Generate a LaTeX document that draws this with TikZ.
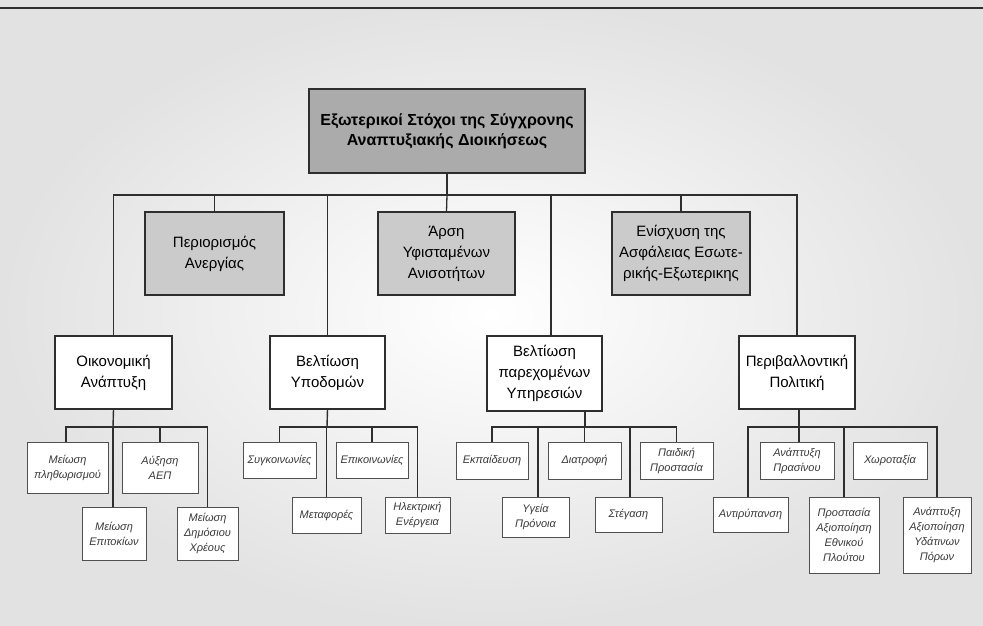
\documentclass[tikz,border=0pt]{standalone}
\usepackage{fontspec}
\setmainfont{Liberation Sans}
\definecolor{linec}{HTML}{2E2E2E}
\definecolor{leafline}{HTML}{505050}
\definecolor{topfill}{HTML}{ABABAB}
\definecolor{midfill}{HTML}{CBCBCB}
\definecolor{paper}{HTML}{E2E2E2}
\definecolor{leaftext}{HTML}{3A3A3A}
\begin{document}
\begin{tikzpicture}[x=1pt,y=-1pt,
  conn/.style={draw=linec, line width=1.3pt},
  leafconn/.style={draw=linec, line width=1.4pt},
  basebox/.style={inner sep=0pt, align=center, line width=1.1pt, draw=linec},
  headbox/.style={basebox, fill=topfill, font=\fontsize{16}{20}\selectfont\bfseries},
  goalbox/.style={basebox, fill=midfill, font=\fontsize{15}{21}\selectfont},
  areabox/.style={basebox, fill=white, font=\fontsize{15}{21}\selectfont},
  leafbox/.style={basebox, fill=white, draw=leafline, line width=0.9pt,
    text=leaftext, font=\fontsize{11}{15}\selectfont\itshape},
]
% paper background with a lighter centre
\useasboundingbox (0,0) rectangle (983,626);
\fill[paper] (0,0) rectangle (983,626);
\shade[inner color=white, outer color=paper] (0,0) rectangle (983,626);
\draw[linec, line width=2.6pt] (0,8) -- (983,8);

% root
\node[headbox, minimum width=276pt, minimum height=84pt] (root) at (447,131)
  {Εξωτερικοί Στόχοι της Σύγχρονης\\Αναπτυξιακής Διοικήσεως};

% goals
\node[goalbox, minimum width=139pt, minimum height=83pt] (g1) at (214.5,253.5)
  {Περιορισμός\\Ανεργίας};
\node[goalbox, minimum width=137pt, minimum height=83pt] (g2) at (446.5,253.5)
  {Άρση\\Υφισταμένων\\Ανισοτήτων};
\node[goalbox, minimum width=138pt, minimum height=83pt] (g3) at (681,253.5)
  {Ενίσχυση της\\Ασφάλειας Εσωτε-\\ρικής-Εξωτερικης};

% policy areas
\node[areabox, minimum width=117pt, minimum height=73pt] (a1) at (113.5,372.5)
  {Οικονομική\\Ανάπτυξη};
\node[areabox, minimum width=115pt, minimum height=73pt] (a2) at (327.5,372.5)
  {Βελτίωση\\Υποδομών};
\node[areabox, minimum width=115pt, minimum height=75pt] (a3) at (544.5,373.5)
  {Βελτίωση\\παρεχομένων\\Υπηρεσιών};
\node[areabox, minimum width=116pt, minimum height=73pt] (a4) at (797,372.5)
  {Περιβαλλοντική\\Πολιτική};

% main bus
\coordinate (bus) at (447,195);
\draw[conn] (root.south) -- (bus);
\draw[conn] (bus) -| (a1.north);
\draw[conn] (bus) -| (a4.north);
\draw[conn] (bus) -| (g1.north);
\draw[conn] (bus) -- (g2.north);
\draw[conn] (bus) -| (g3.north);
\draw[conn] (bus) -| (a2.north);
\draw[conn] (bus) -| ([xshift=6.5pt]a3.north);

% economic development
\node[leafbox, minimum width=81pt, minimum height=51pt] (e1) at (67.5,467.5)
  {Μείωση\\πληθωρισμού};
\node[leafbox, minimum width=76pt, minimum height=51pt] (e2) at (160,467.5)
  {Αύξηση\\ΑΕΠ};
\node[leafbox, minimum width=64pt, minimum height=53pt] (e3) at (114,533.5)
  {Μείωση\\Επιτοκίων};
\node[leafbox, minimum width=61pt, minimum height=53pt] (e4) at (207.5,533.5)
  {Μείωση\\Δημόσιου\\Χρέους};
\coordinate (ja) at (113,427);
\draw[leafconn] (a1.south) -- (ja);
\draw[leafconn] (ja) -| ([xshift=-1.5pt]e1.north);
\draw[leafconn] (ja) -| (e2.north);
\draw[leafconn] (ja) -- ([xshift=-1pt]e3.north);
\draw[leafconn] (ja) -| (e4.north);

% infrastructure
\node[leafbox, minimum width=73pt, minimum height=36pt] (i1) at (279.5,460)
  {Συγκοινωνίες};
\node[leafbox, minimum width=72pt, minimum height=36pt] (i2) at (372,460)
  {Επικοινωνίες};
\node[leafbox, minimum width=69pt, minimum height=36pt] (i3) at (326.5,515)
  {Μεταφορές};
\node[leafbox, minimum width=65pt, minimum height=36pt] (i4) at (417.5,515)
  {Ηλεκτρική\\Ενέργεια};
\coordinate (jb) at (327,427);
\draw[leafconn] (a2.south) -- (jb);
\draw[leafconn] (jb) -| (i1.north);
\draw[leafconn] (jb) -| (i2.north);
\draw[leafconn] (jb) -| (i3.north);
\draw[leafconn] (jb) -| (i4.north);

% public services
\node[leafbox, minimum width=72pt, minimum height=37pt] (s1) at (492,460.5)
  {Εκπαίδευση};
\node[leafbox, minimum width=73pt, minimum height=37pt] (s2) at (584.5,460.5)
  {Διατροφή};
\node[leafbox, minimum width=73pt, minimum height=37pt] (s3) at (676.5,460.5)
  {Παιδική\\Προστασία};
\node[leafbox, minimum width=67pt, minimum height=40pt] (s4) at (535.5,517)
  {Υγεία\\Πρόνοια};
\node[leafbox, minimum width=67pt, minimum height=35pt] (s5) at (628.5,514.5)
  {Στέγαση};
\coordinate (jc) at (585,427);
\draw[leafconn] ([xshift=40.5pt]a3.south) -- (jc);
\draw[leafconn] (jc) -| (s1.north);
\draw[leafconn] (jc) -| (s2.north);
\draw[leafconn] (jc) -| (s3.north);
\draw[leafconn] (jc) -| ([xshift=2.5pt]s4.north);
\draw[leafconn] (jc) -| ([xshift=1.5pt]s5.north);

% environmental policy
\node[leafbox, minimum width=74pt, minimum height=37pt] (v1) at (797,460.5)
  {Ανάπτυξη\\Πρασίνου};
\node[leafbox, minimum width=74pt, minimum height=37pt] (v2) at (890,460.5)
  {Χωροταξία};
\node[leafbox, minimum width=75pt, minimum height=35pt] (v3) at (750.5,514.5)
  {Αντιρύπανση};
\node[leafbox, minimum width=70pt, minimum height=76pt] (v4) at (844,535)
  {Προστασία\\Αξιοποίηση\\Εθνικού\\Πλούτου};
\node[leafbox, minimum width=68pt, minimum height=76pt] (v5) at (937,535)
  {Ανάπτυξη\\Αξιοποίηση\\Υδάτινων\\Πόρων};
\coordinate (jd) at (799,427);
\draw[leafconn] ([xshift=2pt]a4.south) -- (jd);
\draw[leafconn] (jd) -| ([xshift=2pt]v1.north);
\draw[leafconn] (jd) -| ([xshift=-2.5pt]v3.north);
\draw[leafconn] (jd) -| (v4.north);
\draw[leafconn] (jd) -| (v5.north);
\end{tikzpicture}
\end{document}
